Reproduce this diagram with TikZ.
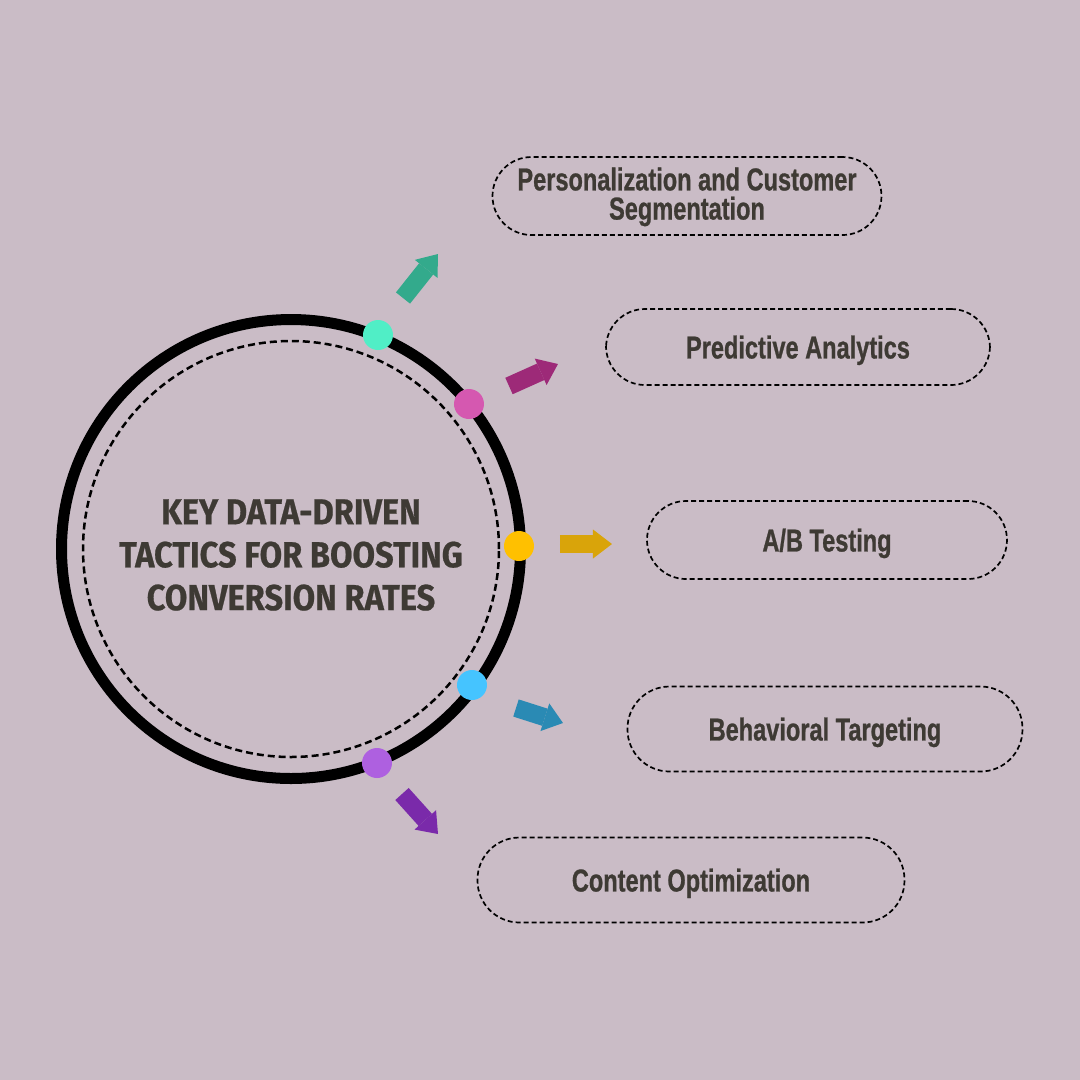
\documentclass[tikz,border=0pt]{standalone}
\usepackage{fontspec}
\usepackage{xcolor}
\usepackage{tikz}
\usetikzlibrary{arrows.meta, positioning, calc}
\newfontfamily\titlefont[FakeStretch=0.9, FakeBold=0.6]{Fira Sans}
\newfontfamily\labelfont[FakeStretch=0.745, FakeBold=0.8]{Liberation Sans}
\definecolor{tcBack}{RGB}{202,188,198}
\definecolor{tcInk}{RGB}{62,58,52}
\definecolor{tcTeal}{RGB}{80,238,198}
\definecolor{tcTealDk}{RGB}{51,170,140}
\definecolor{tcPink}{RGB}{213,88,176}
\definecolor{tcPinkDk}{RGB}{157,42,120}
\definecolor{tcGold}{RGB}{255,192,0}
\definecolor{tcGoldDk}{RGB}{217,164,10}
\definecolor{tcSky}{RGB}{69,196,255}
\definecolor{tcSkyDk}{RGB}{42,138,180}
\definecolor{tcViolet}{RGB}{174,96,224}
\definecolor{tcVioletDk}{RGB}{122,42,170}

\begin{document}
\begin{tikzpicture}[
    x=0.1mm, y=-0.1mm,
    ring/.style={circle, draw=black, line width=1.1mm, minimum size=45.9mm,
                 inner sep=0pt},
    innerring/.style={circle, draw=black, line width=0.25mm,
                 dash pattern=on 0.7mm off 0.4mm, minimum size=41.6mm,
                 inner sep=0pt},
    dot/.style={circle, minimum size=3mm, inner sep=0pt},
    tactic/.style={draw=black, line width=0.17mm, dash pattern=on 0.5mm off 0.3mm,
                 rounded corners=3.9mm, minimum height=7.8mm, align=center,
                 text=tcInk, inner sep=0pt,
                 font=\labelfont\bfseries\fontsize{9}{8.3}\selectfont},
    oneline/.style={text depth=0pt},
    blk/.style={line width=1.8mm,
                -{Triangle[length=1.9mm, width=2.9mm, line width=0pt]}}
]
% --- Canvas: fixed 1080 x 1080 frame, mauve backdrop.
\useasboundingbox (0,0) rectangle (1080,1080);
\fill[tcBack] (0,0) rectangle (1080,1080);

% --- Central hub: thick ring, dashed inner ring and the title.
\node[ring]      (core)  at (291,549) {};
\node[innerring] (coreIn) at (291,549) {};
\node[align=center, text=tcInk,
      font=\titlefont\bfseries\fontsize{10.3}{12.2}\selectfont] (title) at (291,555)
    {KEY DATA-DRIVEN\\TACTICS FOR BOOSTING\\CONVERSION RATES};

% --- Coloured markers sitting on the ring.
\node[dot, fill=tcTeal]   (dotPers) at (378,335) {};
\node[dot, fill=tcPink]   (dotPred) at (469,404) {};
\node[dot, fill=tcGold]   (dotAB)   at (519,546) {};
\node[dot, fill=tcSky]    (dotBeh)  at (472,685) {};
\node[dot, fill=tcViolet] (dotCont) at (377,763) {};

% --- Tactic boxes (right-hand column).
\node[tactic, minimum width=38.9mm] (pers) at (687,196)
    {\rule{0pt}{7pt}Personalization and Customer\\Segmentation};
\node[tactic, oneline, minimum width=38.4mm, minimum height=7.6mm] (pred) at (798,347)
    {Predictive Analytics};
\node[tactic, oneline, minimum width=36.0mm] (ab)   at (827,540) {A/B Testing};
\node[tactic, oneline, minimum width=39.5mm, minimum height=8.5mm,
      rounded corners=4.2mm] (beh)  at (825,729) {Behavioral Targeting};
\node[tactic, oneline, minimum width=42.7mm, minimum height=8.5mm,
      rounded corners=4.2mm] (cont) at (691,880) {Content Optimization};

% --- Block arrows between markers and boxes.
\coordinate (persS) at (403,298);  \coordinate (persE) at (438,254);
\coordinate (predS) at (509,386);  \coordinate (predE) at (558,364);
\coordinate (abS)   at (560,544);  \coordinate (abE)   at (612,544);
\coordinate (behS)  at (516,708);  \coordinate (behE)  at (563,723);
\coordinate (contS) at (402,794);  \coordinate (contE) at (438,834);

\draw[blk, draw=tcTealDk,   fill=tcTealDk]   (persS) -- (persE);
\draw[blk, draw=tcPinkDk,   fill=tcPinkDk]   (predS) -- (predE);
\draw[blk, draw=tcGoldDk,   fill=tcGoldDk]   (abS)   -- (abE);
\draw[blk, draw=tcSkyDk,    fill=tcSkyDk]    (behS)  -- (behE);
\draw[blk, draw=tcVioletDk, fill=tcVioletDk] (contS) -- (contE);

\end{tikzpicture}
\end{document}
